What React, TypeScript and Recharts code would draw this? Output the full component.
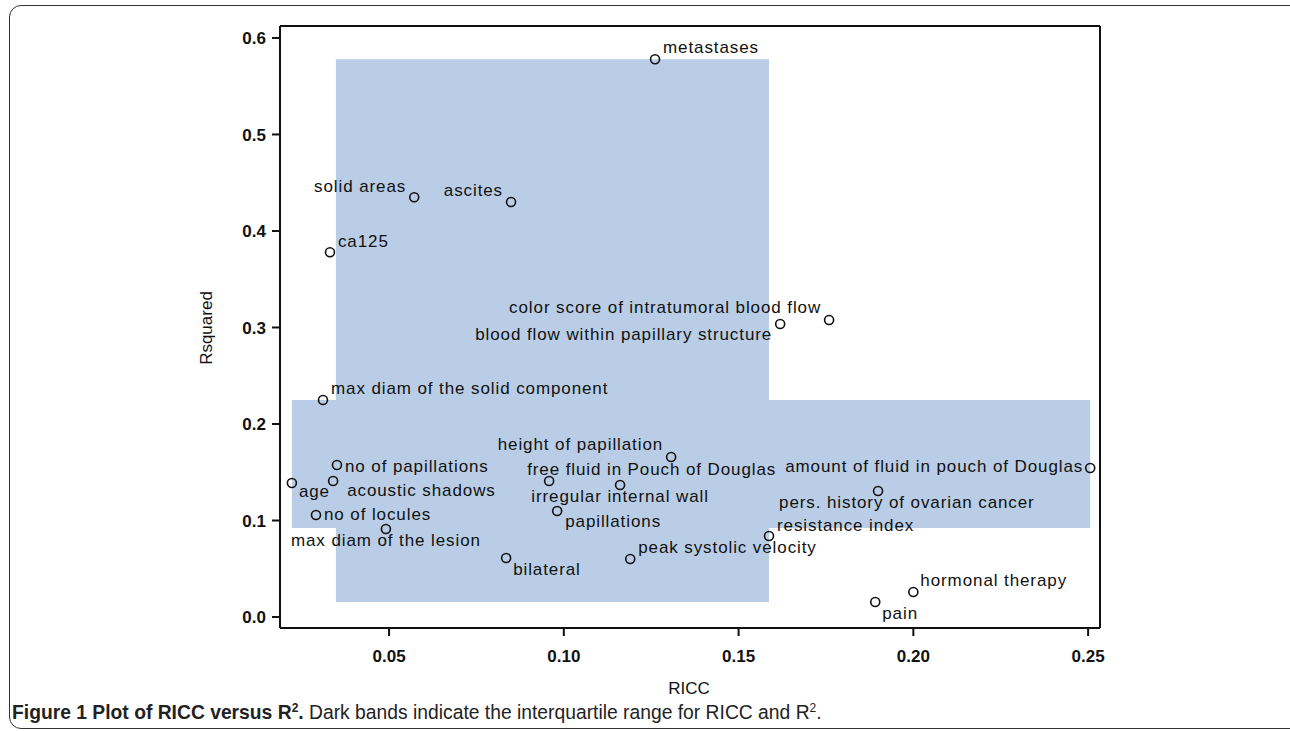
import React from "react";
import {
  ScatterChart,
  Scatter,
  XAxis,
  YAxis,
  ReferenceArea,
  ReferenceLine,
} from "recharts";

// variables plotted: reliability (RICC) against explained variance (R squared)
const variables = [
  "metastases",
  "solid areas",
  "ascites",
  "ca125",
  "color score of intratumoral blood flow",
  "blood flow within papillary structure",
  "max diam of the solid component",
  "height of papillation",
  "no of papillations",
  "amount of fluid in pouch of Douglas",
  "age",
  "acoustic shadows",
  "free fluid in Pouch of Douglas",
  "irregular internal wall",
  "pers. history of ovarian cancer",
  "papillations",
  "no of locules",
  "max diam of the lesion",
  "resistance index",
  "bilateral",
  "peak systolic velocity",
  "hormonal therapy",
  "pain",
];
const riccValues = [
  0.1261, 0.0572, 0.0849, 0.0331, 0.1759, 0.1619, 0.0311, 0.1307, 0.0351,
  0.2506, 0.0222, 0.034, 0.0958, 0.1161, 0.1899, 0.0981, 0.0291, 0.0491,
  0.1587, 0.0835, 0.119, 0.2, 0.1891,
];
const rsqValues = [
  0.578, 0.435, 0.43, 0.378, 0.3078, 0.3036, 0.2249, 0.1658, 0.1575, 0.1544,
  0.1389, 0.141, 0.141, 0.1368, 0.1306, 0.1098, 0.1057, 0.0912, 0.0839,
  0.0611, 0.0601, 0.0259, 0.0155,
];
// interquartile ranges
const riccIqr = [0.0348, 0.1587];
const rsqIqr = [0.0922, 0.2249];

const xTicks = [0.05, 0.1, 0.15, 0.2, 0.25];
const yTicks = [0, 0.1, 0.2, 0.3, 0.4, 0.5, 0.6];

const points = variables.map((name, i) => ({
  name,
  ricc: riccValues[i],
  rsq: rsqValues[i],
}));

// label placement around each marker: anchor, dx, dy (px)
const labelPos: Record<string, [string, number, number]> = {
  metastases: ["start", 8, -12],
  "solid areas": ["end", -8, -11],
  ascites: ["end", -8, -12],
  ca125: ["start", 8, -11],
  "color score of intratumoral blood flow": ["end", -8, -12],
  "blood flow within papillary structure": ["end", -8, 10],
  "max diam of the solid component": ["start", 8, -11],
  "height of papillation": ["end", -8, -12],
  "no of papillations": ["start", 8, 1],
  "amount of fluid in pouch of Douglas": ["end", -7, -1],
  age: ["start", 7, 9],
  "acoustic shadows": ["start", 14, 10],
  "free fluid in Pouch of Douglas": ["start", -22, -11],
  "irregular internal wall": ["middle", 0, 12],
  "pers. history of ovarian cancer": ["start", -99, 12],
  papillations: ["start", 8, 10],
  "no of locules": ["start", 8, 0],
  "max diam of the lesion": ["middle", 0, 12],
  "resistance index": ["start", 8, -11],
  bilateral: ["start", 7, 11],
  "peak systolic velocity": ["start", 8, -11],
  "hormonal therapy": ["start", 7, -12],
  pain: ["start", 7, 11],
};

const xMin = Math.min(...riccValues);
const xMax = Math.max(...riccValues);
const yMin = Math.min(...rsqValues);
const yMax = Math.max(...rsqValues);

const xDomain = [0.0188, 0.2534];
const yDomain = [-0.0114, 0.6124];

const band = "#b9cee6";
const ink = "#111";

const PointMark = (props: any) => {
  const { cx, cy, payload } = props;
  const [anchor, dx, dy] = labelPos[payload.name] || ["start", 8, -10];
  return (
    <g>
      <circle cx={cx} cy={cy} r={4.5} fill="none" stroke="#111" strokeWidth={1.6} />
      <text
        x={cx + dx}
        y={cy + dy}
        textAnchor={anchor as any}
        dominantBaseline="central"
        fontFamily="'Liberation Sans', Arial, sans-serif"
        fontSize={17}
        fill={ink}
        style={{ letterSpacing: "0.9px" }}
      >
        {payload.name}
      </text>
    </g>
  );
};

const tickStyle = {
  fontFamily: "'Liberation Sans', Arial, sans-serif",
  fontSize: 17,
  fontWeight: "bold",
  fill: "#111",
};

export default function App() {
  return (
    <div
      style={{
        position: "absolute",
        left: 0,
        top: 0,
        width: 1290,
        height: 731,
        overflow: "hidden",
        background: "#fff",
      }}
    >
      <div
        style={{
          position: "absolute",
          left: 9,
          top: 5,
          width: 1300,
          height: 724,
          border: "1.5px solid #333",
          borderRadius: 12,
          boxSizing: "border-box",
        }}
      />
      <div style={{ position: "absolute", left: 0, top: 0 }}>
        <ScatterChart
          width={1290}
          height={731}
          margin={{ top: 26, right: 190, bottom: 73, left: 220 }}
        >
          <XAxis
            type="number"
            dataKey="ricc"
            domain={xDomain}
            ticks={xTicks}
            tickFormatter={(v: number) => v.toFixed(2)}
            allowDataOverflow
            height={30}
            tickSize={8}
            tickMargin={14}
            tick={tickStyle}
            axisLine={{ stroke: "#111", strokeWidth: 2 }}
            tickLine={{ stroke: "#111", strokeWidth: 2 }}
          />
          <YAxis
            type="number"
            dataKey="rsq"
            domain={yDomain}
            ticks={yTicks}
            tickFormatter={(v: number) => v.toFixed(1)}
            allowDataOverflow
            width={60}
            tickSize={8}
            tickMargin={6}
            tick={tickStyle}
            axisLine={{ stroke: "#111", strokeWidth: 2 }}
            tickLine={{ stroke: "#111", strokeWidth: 2 }}
          />
          <ReferenceArea
            x1={riccIqr[0]}
            x2={riccIqr[1]}
            y1={yMin}
            y2={yMax}
            fill={band}
            fillOpacity={1}
            stroke="none"
          />
          <ReferenceArea
            x1={xMin}
            x2={xMax}
            y1={rsqIqr[0]}
            y2={rsqIqr[1]}
            fill={band}
            fillOpacity={1}
            stroke="none"
          />
          <ReferenceLine y={yDomain[1]} stroke="#111" strokeWidth={2} />
          <ReferenceLine x={xDomain[1]} stroke="#111" strokeWidth={2} />
          <Scatter data={points} shape={PointMark} isAnimationActive={false} />
        </ScatterChart>
      </div>
      <div
        style={{
          position: "absolute",
          left: 207,
          top: 328,
          transform: "translate(-50%, -50%) rotate(-90deg)",
          fontFamily: "'Liberation Sans', Arial, sans-serif",
          fontSize: 17,
          color: "#111",
          whiteSpace: "nowrap",
        }}
      >
        Rsquared
      </div>
      <div
        style={{
          position: "absolute",
          left: 689,
          top: 689,
          transform: "translate(-50%, -50%)",
          fontFamily: "'Liberation Sans', Arial, sans-serif",
          fontSize: 17,
          color: "#111",
          whiteSpace: "nowrap",
        }}
      >
        RICC
      </div>
      <div
        style={{
          position: "absolute",
          left: 12,
          top: 701,
          fontFamily: "'Liberation Sans', Arial, sans-serif",
          fontSize: 19.3,
          color: "#222",
          whiteSpace: "nowrap",
          lineHeight: "24px",
        }}
      >
        <b>
          Figure 1 Plot of RICC versus R<sup style={{ fontSize: 12, lineHeight: 0 }}>2</sup>.
        </b>{" "}
        Dark bands indicate the interquartile range for RICC and R
        <sup style={{ fontSize: 12, lineHeight: 0 }}>2</sup>.
      </div>
    </div>
  );
}
